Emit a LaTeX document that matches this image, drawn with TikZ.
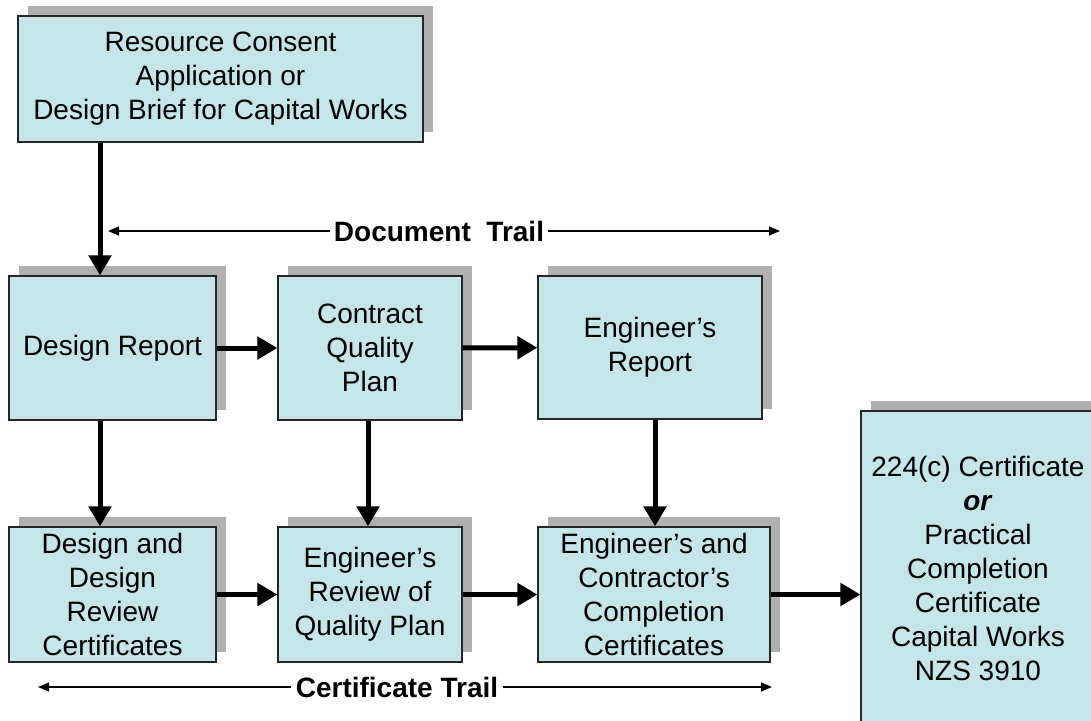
\documentclass[tikz,border=0pt]{standalone}
\usepackage{fontspec}
\setmainfont{Liberation Sans}
\usetikzlibrary{arrows.meta,shadows}

\definecolor{boxfill}{RGB}{198,229,232}
\definecolor{shadowgray}{RGB}{176,176,176}

\begin{document}
\begin{tikzpicture}[x=0.5pt,y=-0.5pt,
    box/.style={rectangle, draw=black!85, line width=0.6pt, fill=boxfill,
      align=center, inner sep=2pt, font=\fontsize{14pt}{17pt}\selectfont,
      general shadow={shadow xshift=5pt, shadow yshift=5pt, fill=shadowgray}},
    flow/.style={line width=2.5pt, -{Triangle[length=10pt,width=11pt]}},
    trail/.style={line width=0.6pt, -{Triangle[length=5.5pt,width=4.5pt]}},
    trailtext/.style={inner sep=2pt, font=\fontsize{14pt}{17pt}\selectfont\bfseries}]

    \useasboundingbox (0,0) rectangle (1091,720);
    \clip (0,0) rectangle (1091,720);

    \node[box, minimum width=202.5pt, minimum height=63pt] (consent) at (220.5,79)
        {Resource Consent\\Application or\\Design Brief for Capital Works};

    \node[box, minimum width=103.5pt, minimum height=72pt] (report) at (112.5,348) {Design Report};
    \node[box, minimum width=92pt, minimum height=72pt] (plan) at (370,348) {Contract\\Quality\\Plan};
    \node[box, minimum width=112pt, minimum height=71.5pt] (engrep) at (650,347.5) {Engineer’s\\Report};

    \node[box, minimum width=103.5pt, minimum height=67.5pt] (designcert) at (112.5,594.5)
        {Design and\\Design\\Review\\Certificates};
    \node[box, minimum width=92pt, minimum height=67.5pt] (qpreview) at (370,594.5)
        {Engineer’s\\Review of\\Quality Plan};
    \node[box, minimum width=116pt, minimum height=67.5pt] (compcert) at (654,594.5)
        {Engineer’s and\\Contractor’s\\Completion\\Certificates};

    \node[box, minimum width=117pt, minimum height=157pt] (final) at (978,568)
        {224(c) Certificate\\\textbf{\textit{or}}\\Practical\\Completion\\Certificate\\Capital Works\\NZS 3910};

    \draw[flow] ([xshift=-6.25pt]report.north |- consent.south) -- ([xshift=-6.25pt]report.north);
    \draw[flow] (report) -- (plan);
    \draw[flow] (plan) -- (engrep);

    \draw[flow] ([xshift=-6.25pt]report.south) -- ([xshift=-6.25pt]designcert.north);
    \draw[flow] ([xshift=-1pt]plan.south) -- ([xshift=-1pt]qpreview.north);
    \draw[flow] ([xshift=2.5pt]engrep.south) -- ([xshift=2.5pt]engrep.south |- compcert.north);

    \draw[flow] (designcert) -- (qpreview);
    \draw[flow] (qpreview) -- (compcert);
    \draw[flow] (compcert.east) -- (compcert.east -| final.west);

    \coordinate (docleft) at (108,231);
    \coordinate (docright) at (780,231);
    \node[trailtext] (doctrail) at (439,231) {Document\ \ Trail};
    \draw[trail] (doctrail) -- (docleft);
    \draw[trail] (doctrail) -- (docright);

    \coordinate (certleft) at (38,687);
    \coordinate (certright) at (772,687);
    \node[trailtext] (certtrail) at (397,687) {Certificate Trail};
    \draw[trail] (certtrail) -- (certleft);
    \draw[trail] (certtrail) -- (certright);

\end{tikzpicture}
\end{document}
